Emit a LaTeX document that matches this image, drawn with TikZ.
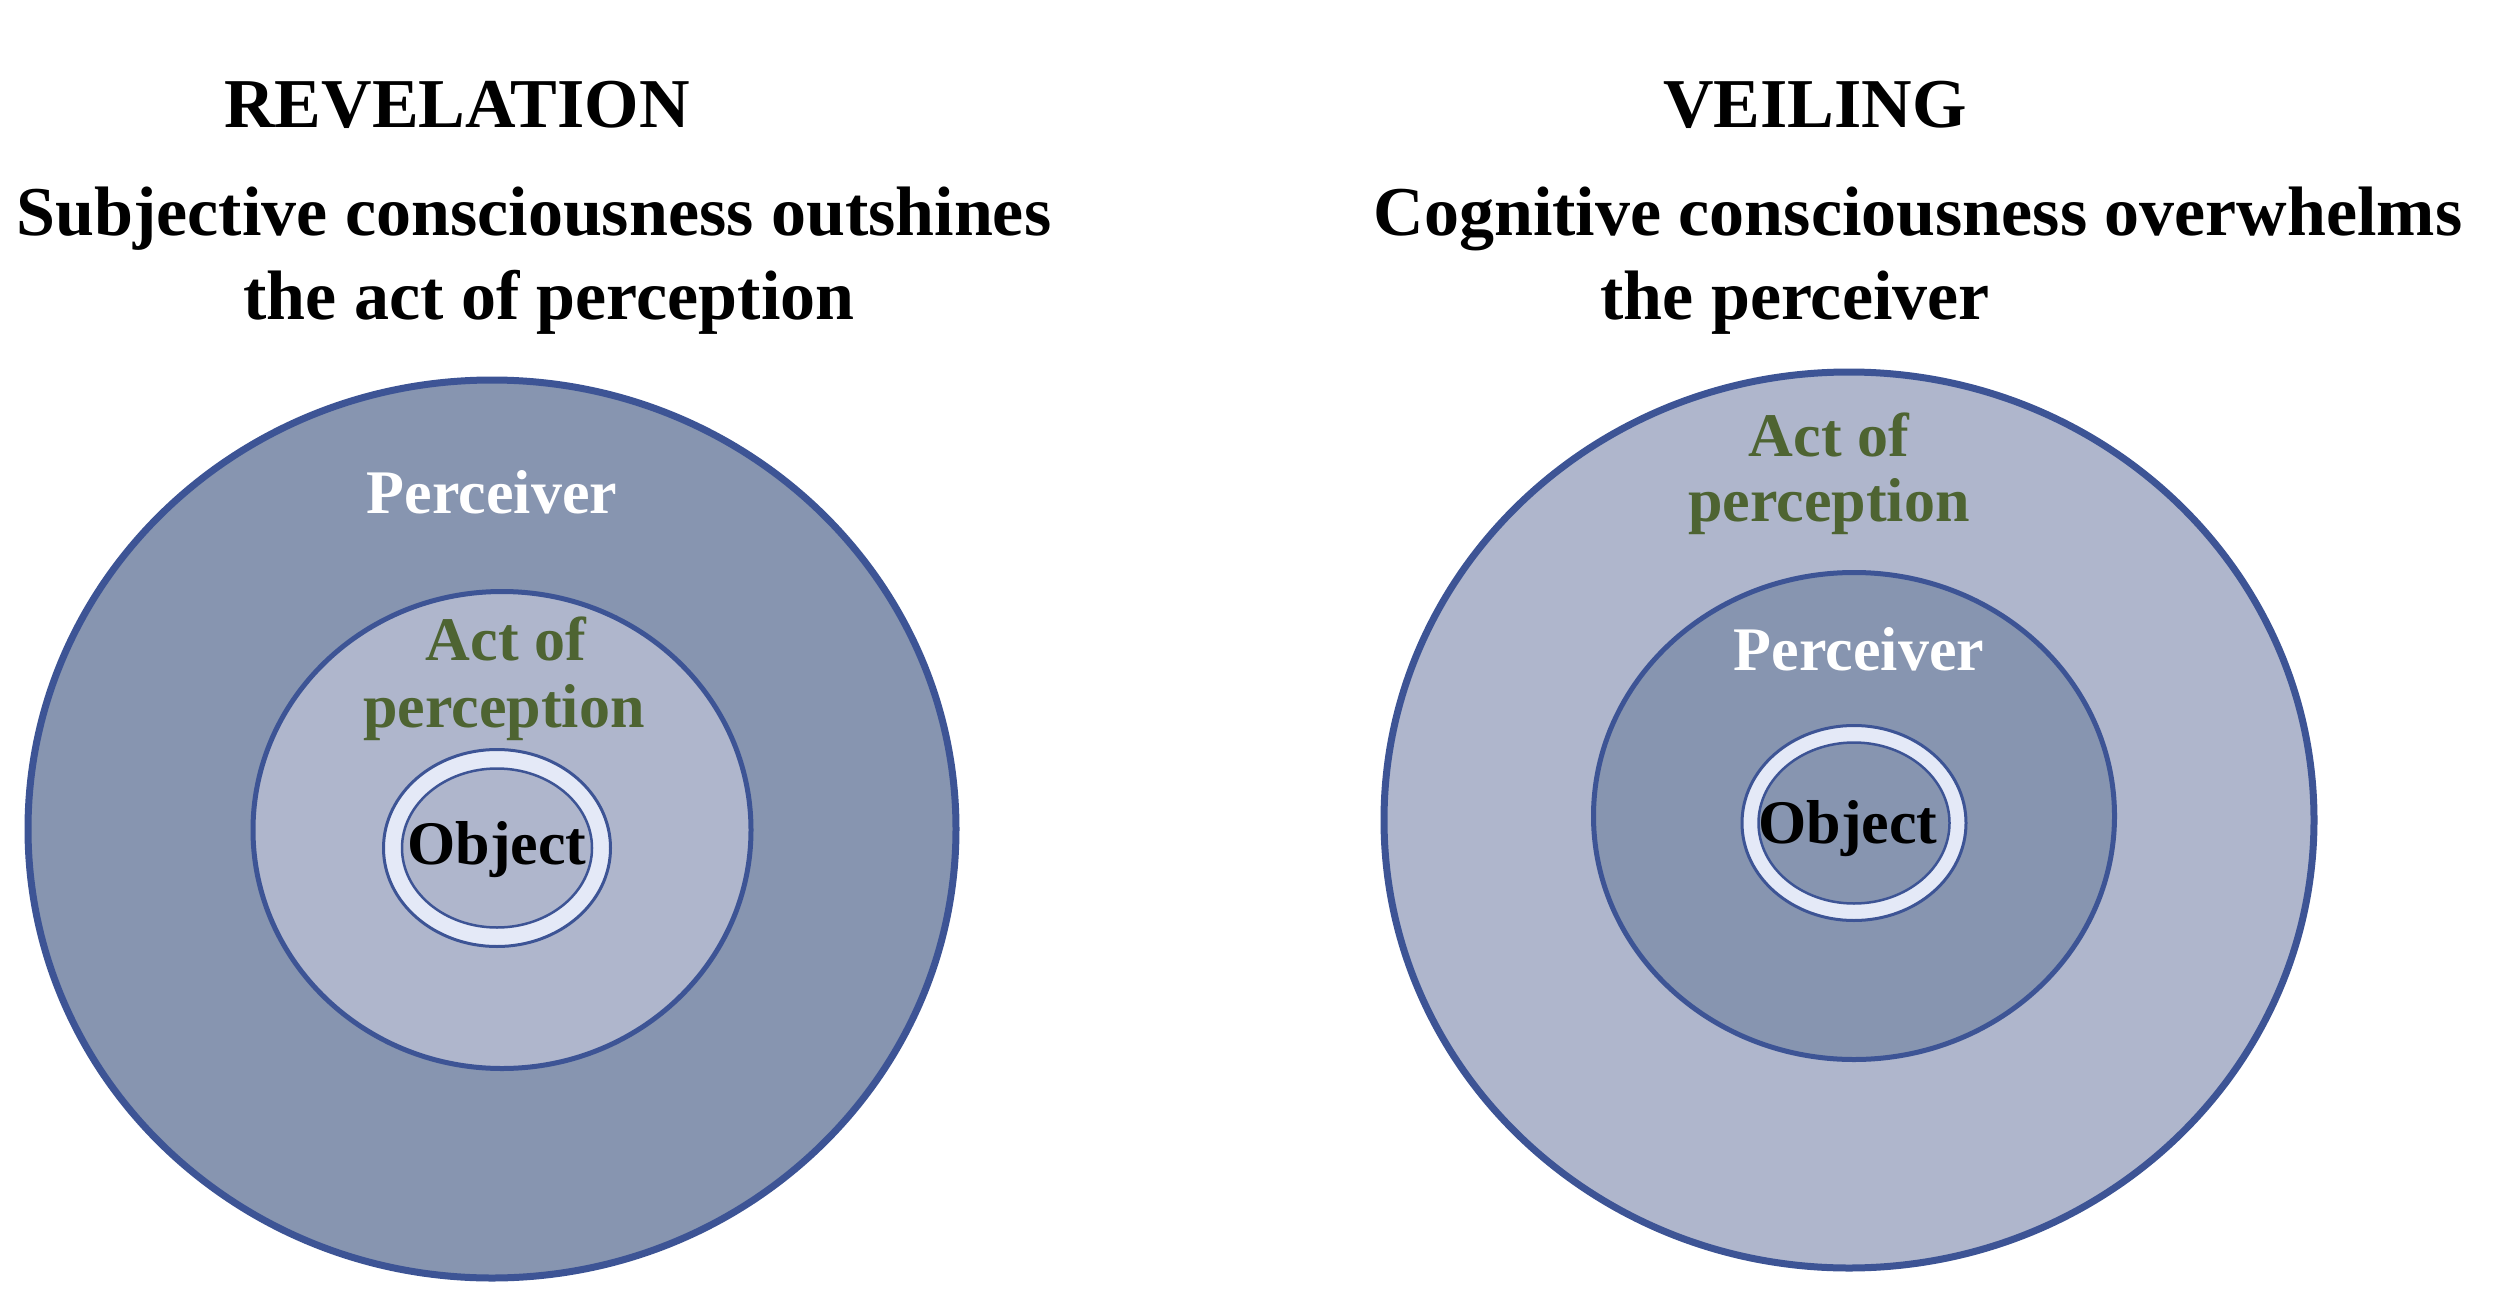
\documentclass[tikz,border=0pt]{standalone}
\usepackage{fontspec}
\setmainfont{Liberation Serif}
\usetikzlibrary{shapes.geometric}
\definecolor{bdr}{RGB}{61,84,149}
\definecolor{darkf}{RGB}{135,149,176}
\definecolor{lightf}{RGB}{175,182,204}
\definecolor{ringw}{RGB}{228,233,247}
\definecolor{actgreen}{RGB}{78,100,50}
\begin{document}
\begin{tikzpicture}[x=1pt,y=-1pt,
  disc/.style={ellipse, draw=bdr, inner sep=0pt, outer sep=0pt},
  lab/.style={font=\fontsize{62}{70}\selectfont\bfseries, anchor=base, inner sep=0pt},
  ttl/.style={font=\fontsize{70}{78}\selectfont\bfseries, anchor=base, inner sep=0pt}]
\useasboundingbox (0,0) rectangle (2500,1308);
\fill[white] (0,0) rectangle (2500,1308);
% titles
\node[ttl] (t1) at (457,128) {REVELATION};
\node[ttl] (t2) at (534,236) {Subjective consciousness outshines};
\node[ttl] (t3) at (549,319) {the act of perception};
\node[ttl] (t4) at (1815,128) {VEILING};
\node[ttl] (t5) at (1918,236) {Cognitive consciousness overwhelms};
\node[ttl] (t6) at (1795,319) {the perceiver};
% left: revelation
\node[disc, fill=darkf, line width=7pt, minimum width=928pt, minimum height=898pt] (Lout) at (492,829) {};
\node[disc, fill=lightf, line width=5pt, minimum width=498pt, minimum height=477pt] (Lin) at (502,830) {};
\node[disc, fill=ringw, line width=3pt, minimum width=227pt, minimum height=197pt] (Lring) at (497,848) {};
\node[disc, fill=lightf, line width=2.5pt, minimum width=190pt, minimum height=159pt] (Lobj) at (497,848) {};
\node[lab, text=white] (Lperc) at (492,513) {Perceiver};
\node[lab, text=actgreen] (Lact1) at (506,660) {Act of};
\node[lab, text=actgreen] (Lact2) at (504,727) {perception};
\node[lab, text=black] (Lobjt) at (497,864) {Object};
% right: veiling
\node[disc, fill=lightf, line width=7pt, minimum width=930pt, minimum height=896pt] (Rout) at (1849,820) {};
\node[disc, fill=darkf, line width=5pt, minimum width=521pt, minimum height=487pt] (Rin) at (1854,816) {};
\node[disc, fill=ringw, line width=3pt, minimum width=224pt, minimum height=195pt] (Rring) at (1854,823) {};
\node[disc, fill=darkf, line width=2.5pt, minimum width=191pt, minimum height=161pt] (Robj) at (1854,823) {};
\node[lab, text=actgreen] (Ract1) at (1829,456) {Act of};
\node[lab, text=actgreen] (Ract2) at (1829,521) {perception};
\node[lab, text=white] (Rperc) at (1859,670) {Perceiver};
\node[lab, text=black] (Robjt) at (1848,843) {Object};
\end{tikzpicture}
\end{document}
